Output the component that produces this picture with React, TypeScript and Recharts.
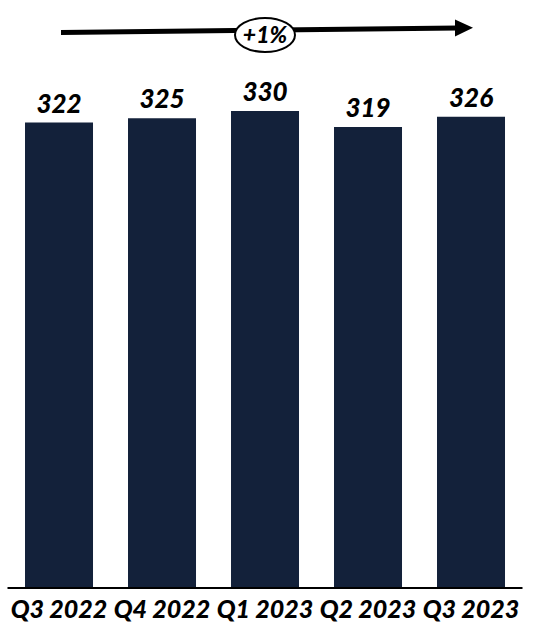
import React from 'react';
import { BarChart, Bar, XAxis, YAxis, LabelList } from 'recharts';

const quarters = ['Q3 2022', 'Q4 2022', 'Q1 2023', 'Q2 2023', 'Q3 2023'];
const values = [322, 325, 330, 319, 326];
const growthLabel = '+1%';

const BAR_COLOR = '#13213a';
const FONT = 'Lato, "Open Sans", sans-serif';

const data = quarters.map((q, i) => ({ quarter: q, value: values[i] }));

export default function App() {
  return (
    <div style={{ position: 'absolute', left: 0, top: 0, width: 542, height: 628, background: '#fff' }}>
      <BarChart
        width={542}
        height={628}
        data={data}
        margin={{ top: 111, right: 19.5, left: 7.5, bottom: 0 }}
        barCategoryGap="17%"
      >
        <XAxis
          dataKey="quarter"
          height={40}
          axisLine={{ stroke: '#000', strokeWidth: 2 }}
          tickLine={false}
          tickSize={0}
          tickMargin={12}
          interval={0}
          tick={{ fill: '#000', fontSize: 25, fontWeight: 900, fontStyle: 'italic', fontFamily: FONT }}
        />
        <YAxis hide domain={[0, 330]} />
        <Bar dataKey="value" fill={BAR_COLOR} isAnimationActive={false}>
          <LabelList
            dataKey="value"
            position="top"
            offset={10}
            fill="#000"
            fontSize={26}
            fontWeight={900}
            fontStyle="italic"
            fontFamily={FONT}
          />
        </Bar>
      </BarChart>
      {/* growth arrow annotation */}
      <svg width={542} height={70} style={{ position: 'absolute', left: 0, top: 0 }}>
        <line x1={61} y1={32.5} x2={458} y2={28} stroke="#000" strokeWidth={5} />
        <polygon points="455,19.5 473,27.8 455,36.5" fill="#000" />
        <ellipse cx={265} cy={35} rx={30} ry={17} fill="#fff" stroke="#000" strokeWidth={2} />
        <text
          x={265}
          y={43}
          textAnchor="middle"
          fontSize={23}
          fontWeight={900}
          fontStyle="italic"
          fontFamily={FONT}
          fill="#000"
        >
          {growthLabel}
        </text>
      </svg>
    </div>
  );
}
